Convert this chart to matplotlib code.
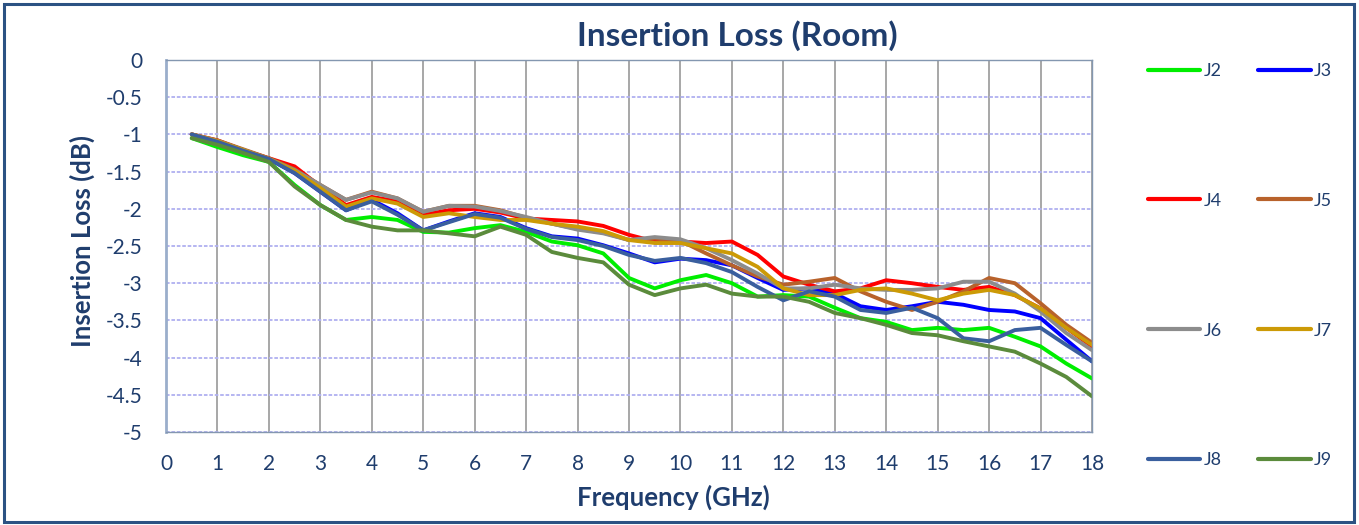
import matplotlib
matplotlib.use("Agg")
import matplotlib.pyplot as plt
from matplotlib.lines import Line2D
from matplotlib.patches import Rectangle
from matplotlib.ticker import FuncFormatter

plt.rcParams['font.family'] = ['Lato', 'DejaVu Sans']
plt.rcParams['axes.unicode_minus'] = False

freq = [0.5, 1.0, 1.5, 2.0, 2.5, 3.0, 3.5, 4.0, 4.5, 5.0, 5.5, 6.0, 6.5, 7.0, 7.5, 8.0, 8.5, 9.0,
        9.5, 10.0, 10.5, 11.0, 11.5, 12.0, 12.5, 13.0, 13.5, 14.0, 14.5, 15.0, 15.5, 16.0, 16.5, 17.0, 17.5, 18.0]

J2 = [-1.05, -1.17, -1.28, -1.37, -1.68, -1.95, -2.15, -2.11, -2.15, -2.31, -2.32, -2.26, -2.22, -2.31, -2.44, -2.49, -2.60, -2.93,
      -3.07, -2.96, -2.89, -3.00, -3.18, -3.16, -3.18, -3.33, -3.47, -3.52, -3.63, -3.60, -3.63, -3.60, -3.72, -3.85, -4.08, -4.28]
J3 = [-1.00, -1.10, -1.22, -1.33, -1.52, -1.77, -2.02, -1.88, -2.06, -2.29, -2.17, -2.06, -2.11, -2.26, -2.37, -2.40, -2.49, -2.60,
      -2.72, -2.67, -2.69, -2.76, -2.93, -3.09, -3.07, -3.14, -3.31, -3.36, -3.31, -3.25, -3.29, -3.36, -3.38, -3.47, -3.76, -4.05]
J4 = [-1.00, -1.08, -1.21, -1.32, -1.43, -1.70, -1.95, -1.84, -1.90, -2.08, -2.02, -2.00, -2.05, -2.13, -2.15, -2.17, -2.23, -2.35,
      -2.44, -2.44, -2.46, -2.44, -2.62, -2.91, -3.02, -3.11, -3.07, -2.96, -3.00, -3.05, -3.09, -3.05, -3.16, -3.34, -3.60, -3.85]
J5 = [-1.00, -1.08, -1.20, -1.32, -1.47, -1.68, -1.88, -1.77, -1.86, -2.04, -1.96, -1.96, -2.02, -2.12, -2.20, -2.27, -2.32, -2.42,
      -2.40, -2.43, -2.60, -2.76, -2.91, -3.02, -2.98, -2.93, -3.11, -3.25, -3.36, -3.25, -3.11, -2.93, -3.00, -3.27, -3.56, -3.80]
J6 = [-1.00, -1.09, -1.21, -1.33, -1.48, -1.68, -1.88, -1.78, -1.86, -2.04, -1.96, -1.97, -2.03, -2.11, -2.20, -2.28, -2.33, -2.42,
      -2.38, -2.41, -2.53, -2.69, -2.87, -3.07, -3.07, -3.02, -3.07, -3.09, -3.09, -3.07, -2.98, -2.98, -3.14, -3.38, -3.67, -3.90]
J7 = [-1.00, -1.09, -1.21, -1.33, -1.49, -1.72, -1.97, -1.86, -1.93, -2.11, -2.06, -2.11, -2.15, -2.15, -2.20, -2.24, -2.30, -2.42,
      -2.46, -2.46, -2.53, -2.60, -2.78, -3.07, -3.16, -3.16, -3.09, -3.07, -3.14, -3.23, -3.14, -3.09, -3.16, -3.34, -3.60, -3.83]
J8 = [-1.00, -1.10, -1.22, -1.33, -1.52, -1.77, -2.02, -1.90, -2.08, -2.29, -2.18, -2.07, -2.12, -2.27, -2.38, -2.42, -2.50, -2.62,
      -2.70, -2.66, -2.73, -2.85, -3.05, -3.23, -3.11, -3.18, -3.36, -3.40, -3.33, -3.47, -3.74, -3.78, -3.63, -3.60, -3.83, -4.05]
J9 = [-1.05, -1.14, -1.25, -1.37, -1.70, -1.95, -2.15, -2.24, -2.29, -2.29, -2.33, -2.37, -2.24, -2.35, -2.58, -2.66, -2.72, -3.02,
      -3.16, -3.07, -3.02, -3.14, -3.18, -3.18, -3.25, -3.40, -3.47, -3.56, -3.67, -3.70, -3.78, -3.85, -3.92, -4.08, -4.26, -4.52]

series_names = ['J2', 'J3', 'J4', 'J5', 'J6', 'J7', 'J8', 'J9']
series_values = [J2, J3, J4, J5, J6, J7, J8, J9]
colors = ['#00EE00', '#0000FF', '#FF0000', '#B8622B', '#8C8C8C', '#CC9A06', '#3A5F9E', '#5B8B3C']

x_ticks = list(range(0, 19))
y_ticks = [0, -0.5, -1, -1.5, -2, -2.5, -3, -3.5, -4, -4.5, -5]

text_color = '#1F3D6D'

W, H = 1359, 525
fig = plt.figure(figsize=(W / 100, H / 100), dpi=100)
ax = fig.add_axes([166 / W, 1 - 432 / H, (1092 - 166) / W, (432 - 60) / H])

for name, vals, c in zip(series_names, series_values, colors):
    ax.plot(freq, vals, color=c, lw=2.8, label=name, solid_capstyle='round', solid_joinstyle='round')

ax.set_xlim(0, 18)
ax.set_ylim(-5, 0)
ax.set_xticks(x_ticks)
ax.set_yticks(y_ticks)
ax.yaxis.set_major_formatter(FuncFormatter(lambda v, p: '%g' % v))
ax.tick_params(axis='both', length=0, labelsize=15, labelcolor=text_color)
ax.tick_params(axis='y', pad=17)
ax.tick_params(axis='x', pad=16)

ax.set_axisbelow(True)
ax.xaxis.grid(True, color='#A0A0A0', lw=1.3, linestyle='-')
ax.yaxis.grid(True, color='#B0B0F0', lw=1.3, linestyle=(0, (2, 1)))
for side, sp in ax.spines.items():
    sp.set_color('#8497B0')
    sp.set_linewidth(1.0)
ax.spines['left'].set_linewidth(2.0)
ax.spines['left'].set_color('#9AAECB')

fig.text(737 / W, 1 - 36 / H, 'Insertion Loss (Room)', ha='center', va='center',
         fontsize=24, fontweight='bold', color=text_color)
fig.text(673 / W, 1 - 497 / H, 'Frequency (GHz)', ha='center', va='center',
         fontsize=18.5, fontweight='bold', color=text_color)
fig.text(82 / W, 1 - 241 / H, 'Insertion Loss (dB)', ha='center', va='center', rotation=90,
         fontsize=18.5, fontweight='bold', color=text_color)

handles = [Line2D([], [], color=c, lw=3, solid_capstyle='round') for c in colors]
order = [0, 2, 4, 6, 1, 3, 5, 7]
leg = fig.legend([handles[i] for i in order], [series_names[i] for i in order],
                 ncol=2, loc='upper left', bbox_to_anchor=(1148 / W, 1 - 63 / H),
                 frameon=False, fontsize=13, handlelength=2.9, handletextpad=0.2,
                 columnspacing=2.0, labelspacing=6.3, borderaxespad=0, borderpad=0)
for t in leg.get_texts():
    t.set_color(text_color)

fig.patches.append(Rectangle((4 / W, 3 / H), (1354 - 4) / W, (521 - 3) / H, transform=fig.transFigure,
                             fill=False, edgecolor='#2B5283', lw=2.2, zorder=10))

fig.savefig('out.png', dpi=100)
